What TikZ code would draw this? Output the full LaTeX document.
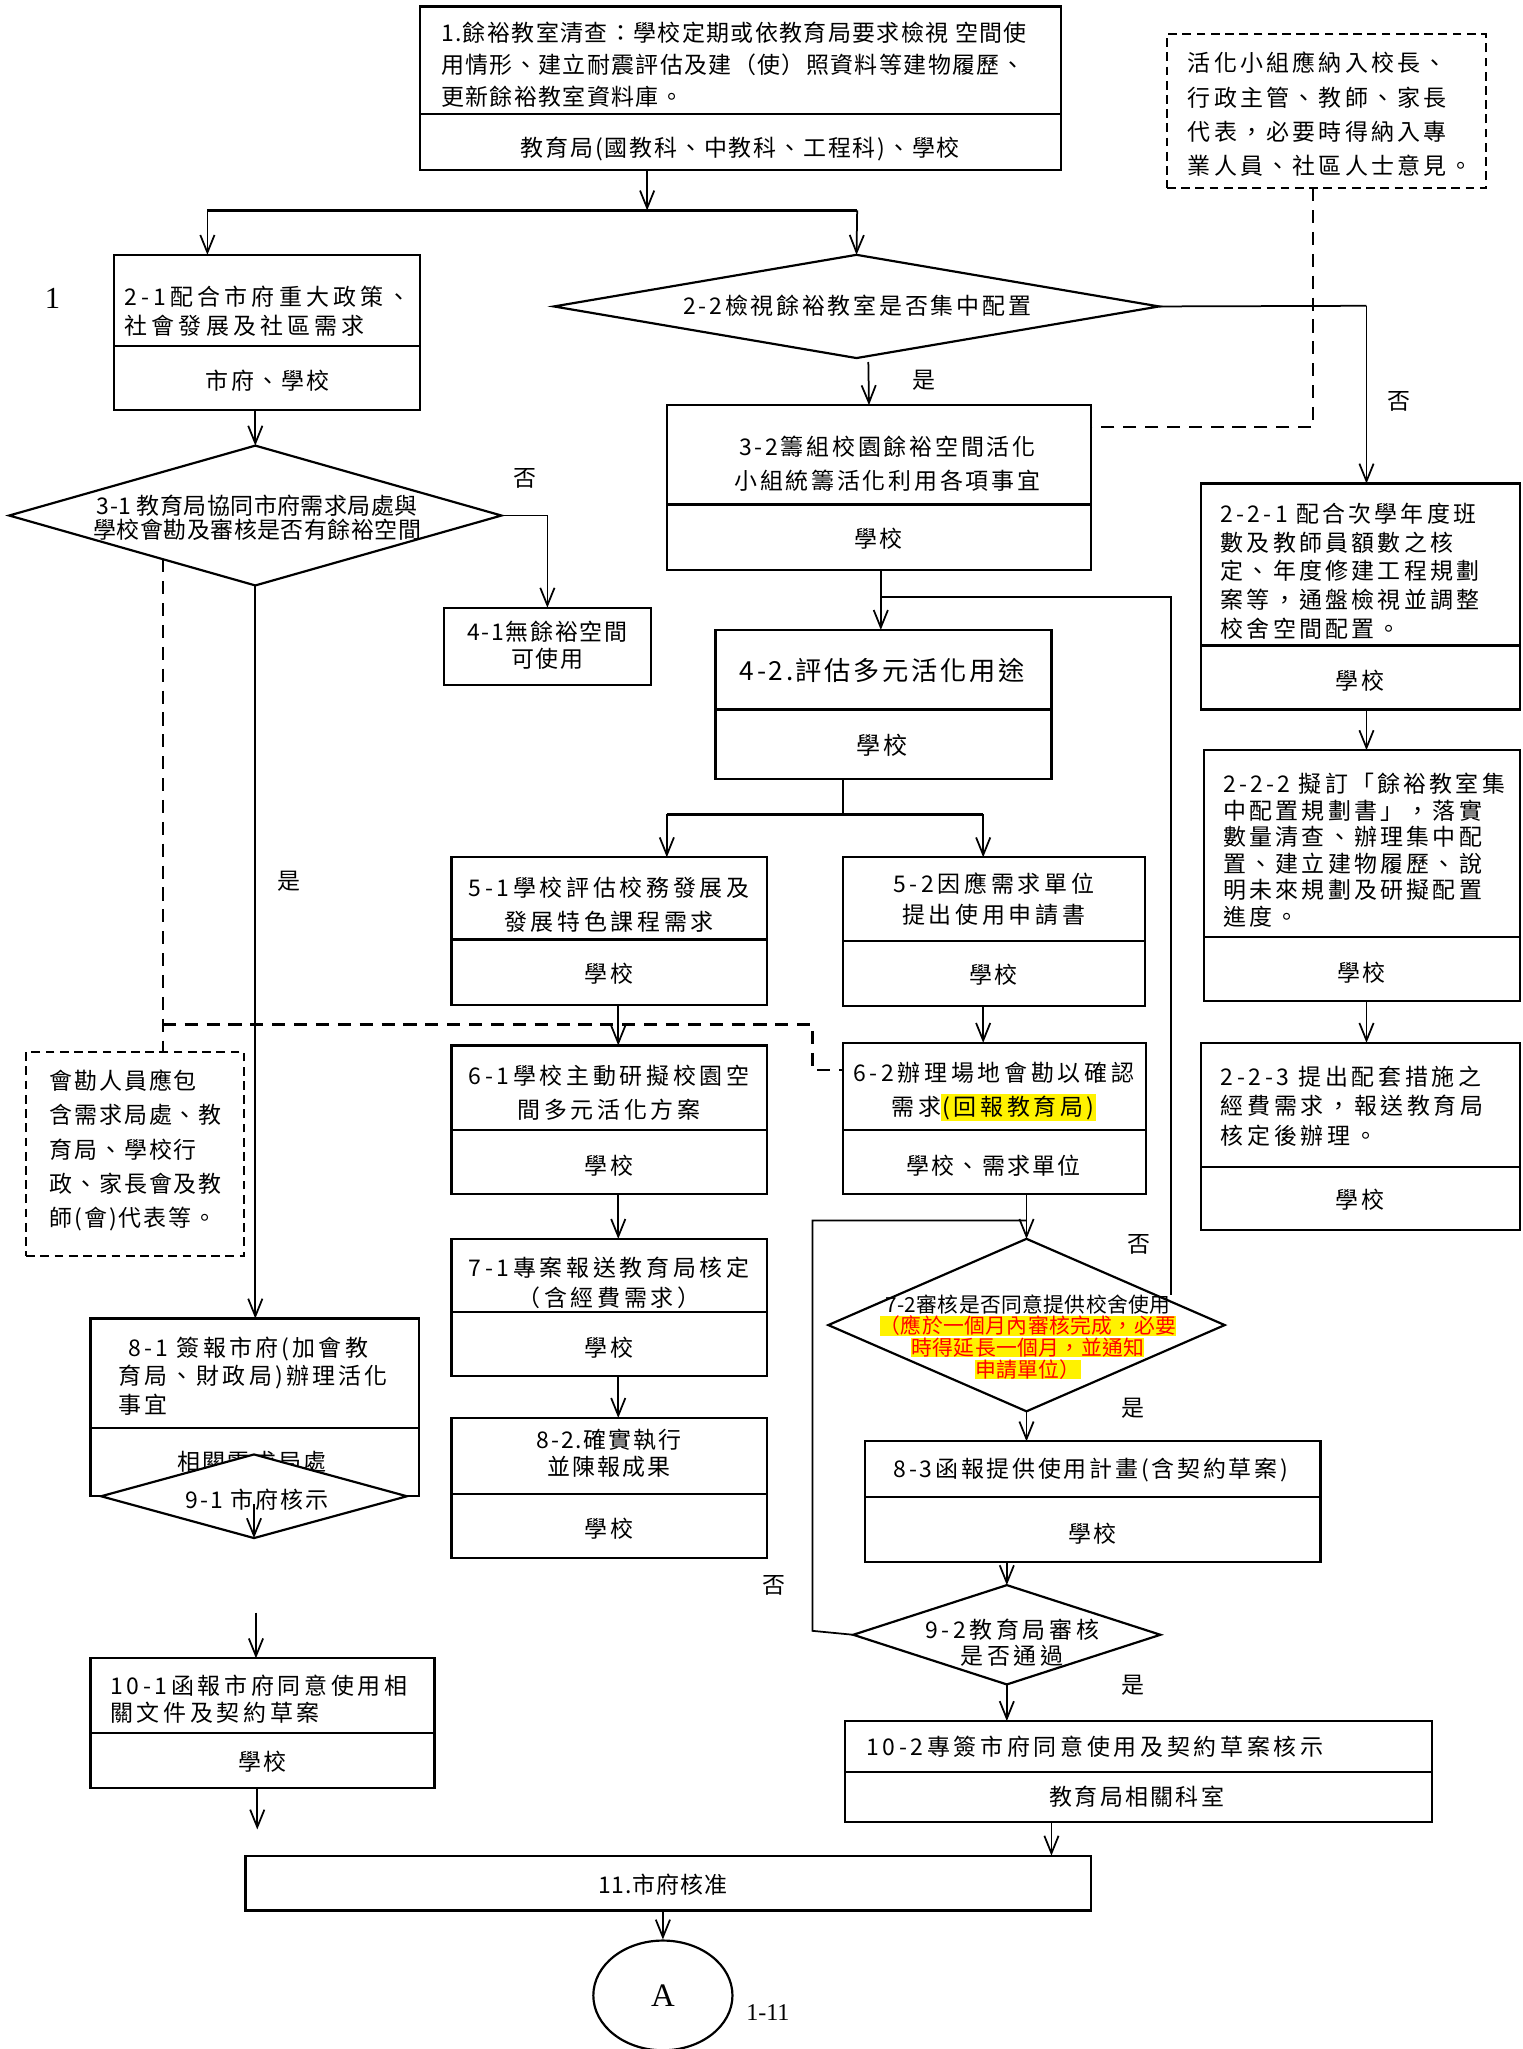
\documentclass[tikz,border=0pt]{standalone}
\usepackage{fontspec}
\setmainfont{Noto Sans CJK TC}
\newfontfamily\latinserif{Liberation Serif}
\usetikzlibrary{arrows.meta,shapes.geometric,fit}
\newcommand\F[3]{\fontsize{#1}{#2}\selectfont\addfontfeatures{LetterSpace=#3}}
\newcommand\mkbox[6]{%
  \coordinate (#1-nw) at (#2,#3); \coordinate (#1-se) at (#4,#5);
  \node[box, fit=(#1-nw)(#1-se)] (#1) {};
  \draw[line width=1pt] (#1.west |- 0,#6) -- (#1.east |- 0,#6);}
\newcommand\mkboxo[5]{%
  \coordinate (#1-nw) at (#2,#3); \coordinate (#1-se) at (#4,#5);
  \node[box, fit=(#1-nw)(#1-se)] (#1) {};}
\tikzset{
  box/.style={draw, line width=1pt, inner sep=0pt, outer sep=0pt},
  dbox/.style={draw, line width=1pt, dash pattern=on 4pt off 2.5pt, inner sep=0pt, outer sep=0pt},
  dia/.style 2 args={draw, diamond, line width=1pt, inner sep=0pt, outer sep=0pt, minimum width={#1*0.6pt}, minimum height={#2*0.5973pt}},
  arr/.style={line width=0.8pt, -{Straight Barb[length=8pt,width=6.5pt]}},
  ln/.style={line width=0.8pt},
  hl/.style={line width=1.3pt},
  dl/.style={line width=1pt, dash pattern=on 6pt off 4pt},
  txt/.style={inner sep=0pt, outer sep=0pt},
  yn/.style={inner sep=0pt, outer sep=0pt, font=\F{10.5}{12}{0}},
  red/.style={inner sep=0pt, outer sep=0pt, fill=yellow, text=red, font=\F{9.5}{10}{2}},
}
\begin{document}
\begin{tikzpicture}[x=0.6pt,y=-0.5973pt]
\fill[white] (0,0) rectangle (1160,1568);
\useasboundingbox (0,0) rectangle (1160,1568);
\setlength{\fboxsep}{0.5pt}

% ================= NODES =================
% ---- box 1
\mkbox{b1}{320}{5}{808}{130}{87}
\node[txt, anchor=west, align=left, font=\F{10.5}{14.6}{6}] (b1t) at (336,49.5) {1.餘裕教室清查：學校定期或依教育局要求檢視 空間使\\用情形、建立耐震評估及建（使）照資料等建物履歷、\\更新餘裕教室資料庫。};
\node[txt, font=\F{10.5}{14}{8}] (b1b) at (564,114) {教育局(國教科、中教科、工程科)、學校};

% ---- dashed note top right
\coordinate (bd-nw) at (889,26); \coordinate (bd-se) at (1132,144);
\node[dbox, fit=(bd-nw)(bd-se)] (bd) {};
\node[txt, anchor=west, align=left, font=\F{10.5}{15.7}{14}] (bdt) at (905,87.5) {活化小組應納入校長、\\行政主管、教師、家長\\代表，必要時得納入專\\業人員、社區人士意見。};

% ---- 2-1
\mkbox{b21}{87}{195}{320}{314}{265}
\node[txt, anchor=west, align=left, font=\F{10.5}{13.1}{18}] (b21t) at (95,238) {2-1配合市府重大政策、\\社會發展及社區需求};
\node[txt, font=\F{10.5}{13}{10}] (b21b) at (204,291) {市府、學校};
\node[txt, font=\latinserif\fontsize{14}{14}\selectfont] (n1) at (40,228) {1};

% ---- 2-2 diamond
\node[dia={461}{79}] (d22) at (652.5,234.5) {};
\node[txt, font=\F{10.5}{13}{12}] (d22t) at (653,234) {2-2檢視餘裕教室是否集中配置};
\node[yn] (n22no) at (1066,307) {否};
\node[yn] (n22yes) at (704,291) {是};

% ---- 3-2
\mkbox{b32}{508}{310}{831}{436}{386}
\node[txt, align=center, font=\F{10.5}{15.5}{12}] (b32t) at (676,355) {3-2籌組校園餘裕空間活化\\小組統籌活化利用各項事宜};
\node[txt, font=\F{10.5}{13}{10}] (b32b) at (669,412) {學校};

% ---- 3-1 diamond
\node[dia={375}{107}] (d31) at (194.5,394.5) {};
\node[txt, align=center, font=\F{10.5}{9.6}{2}] (d31t) at (196,396) {3-1 教育局協同市府需求局處與\\學校會勘及審核是否有餘裕空間};
\node[yn] (n31no) at (400,366) {否};
\node[yn] (n31yes) at (220,674) {是};

% ---- 4-1
\mkboxo{b41}{338}{465}{496}{524}
\node[txt, align=center, font=\F{10.5}{12.5}{7}] (b41t) at (417,494) {4-1無餘裕空間\\可使用};

% ---- dashed note left
\coordinate (bd2-nw) at (20,805); \coordinate (bd2-se) at (186,961);
\node[dbox, fit=(bd2-nw)(bd2-se)] (bd2) {};
\node[txt, anchor=west, align=left, font=\F{10.5}{15.7}{8}] (bd2t) at (38,880.5) {會勘人員應包\\含需求局處、教\\育局、學校行\\政、家長會及教\\師(會)代表等。};

% ---- 4-2
\mkbox{b42}{545}{482}{801}{596}{543}
\node[txt, font=\F{12}{14}{10}] (b42t) at (672,513) {4-2.評估多元活化用途};
\node[txt, font=\F{11}{13}{10}] (b42b) at (672,570) {學校};

% ---- 5-1, 5-2
\mkbox{b51}{344}{656}{584}{769}{719}
\node[txt, align=center, font=\F{10.5}{15.5}{16}] (b51t) at (464,692) {5-1學校評估校務發展及\\發展特色課程需求};
\node[txt, font=\F{10.5}{13}{10}] (b51b) at (464,745) {學校};
\mkbox{b52}{642}{656}{872}{770}{720}
\node[txt, align=center, font=\F{10.5}{14.3}{16}] (b52t) at (757,688) {5-2因應需求單位\\提出使用申請書};
\node[txt, font=\F{10.5}{13}{10}] (b52b) at (757,746) {學校};

% ---- 6-1, 6-2
\mkbox{b61}{344}{800}{584}{914}{865}
\node[txt, align=center, font=\F{10.5}{15.5}{16}] (b61t) at (464,836) {6-1學校主動研擬校園空\\間多元活化方案};
\node[txt, font=\F{10.5}{13}{10}] (b61b) at (464,892) {學校};
\mkbox{b62}{642}{798}{873}{914}{865}
\node[txt, align=center, font=\F{10.5}{15.5}{16}] (b62t) at (757,835) {6-2辦理場地會勘以確認\\需求\colorbox{yellow}{(回報教育局)}};
\node[txt, font=\F{10.5}{13}{10}] (b62b) at (757,892) {學校、需求單位};

% ---- 2-2-x column
\mkbox{b221}{915}{370}{1158}{543}{494}
\node[txt, anchor=west, align=left, font=\F{10.5}{13.1}{14}] (b221t) at (930,437) {2-2-1 配合次學年度班\\數及教師員額數之核\\定、年度修建工程規劃\\案等，通盤檢視並調整\\校舍空間配置。};
\node[txt, font=\F{10.5}{13}{10}] (b221b) at (1036,521) {學校};
\mkbox{b222}{917}{574}{1158}{766}{717}
\node[txt, anchor=west, align=left, font=\F{10.5}{12.1}{14}] (b222t) at (932,650.5) {2-2-2 擬訂「餘裕教室集\\中配置規劃書」，落實\\數量清查、辦理集中配\\置、建立建物履歷、說\\明未來規劃及研擬配置\\進度。};
\node[txt, font=\F{10.5}{13}{10}] (b222b) at (1037,744) {學校};
\mkbox{b223}{915}{798}{1158}{941}{893}
\node[txt, anchor=west, align=left, font=\F{10.5}{13.4}{16}] (b223t) at (930,846.5) {2-2-3 提出配套措施之\\經費需求，報送教育局\\核定後辦理。};
\node[txt, font=\F{10.5}{13}{10}] (b223b) at (1036,918) {學校};

% ---- 7-1, 8-2
\mkbox{b71}{344}{948}{584}{1053}{1004}
\node[txt, align=center, font=\F{10.5}{13.7}{16}] (b71t) at (464,981.5) {7-1專案報送教育局核定\\（含經費需求）};
\node[txt, font=\F{10.5}{13}{10}] (b71b) at (464,1031) {學校};
\mkbox{b82}{344}{1085}{584}{1192}{1143}
\node[txt, align=center, font=\F{10.5}{12}{8}] (b82t) at (464,1112) {8-2.確實執行\\並陳報成果};
\node[txt, font=\F{10.5}{13}{10}] (b82b) at (464,1170) {學校};

% ---- 7-2 diamond
\node[dia={302}{132}] (d72) at (782,1014) {};
\node[txt, font=\F{9.5}{10}{2}] (d72t) at (783,998) {7-2審核是否同意提供校舍使用};
\node[red] (r1) at (783,1014.6) {（應於一個月內審核完成，必要};
\node[red] (r2) at (783,1031) {時得延長一個月，並通知};
\node[red] (r3) at (783,1048) {申請單位）};
\node[yn] (n72no) at (868,952) {否};
\node[yn] (n72yes) at (863,1078) {是};

% ---- 8-3
\mkbox{b83}{659}{1103}{1006}{1195}{1145.5}
\node[txt, font=\F{10.5}{13}{12}] (b83t) at (831,1125) {8-3函報提供使用計畫(含契約草案)};
\node[txt, font=\F{10.5}{13}{10}] (b83b) at (832,1174) {學校};

% ---- 9-2 diamond
\node[dia={234}{76}] (d92) at (767,1251) {};
\node[txt, align=center, font=\F{10.5}{12}{16}] (d92t) at (771,1257) {9-2教育局審核\\是否通過};
\node[yn] (n92no) at (590,1213) {否};
\node[yn] (n92yes) at (863,1290) {是};

% ---- 10-2
\mkbox{b102}{644}{1317}{1091}{1394}{1356}
\node[txt, anchor=west, font=\F{10.5}{13}{16}] (b102t) at (660,1337) {10-2專簽市府同意使用及契約草案核示};
\node[txt, font=\F{10.5}{13}{10}] (b102b) at (866,1375) {教育局相關科室};

% ---- 8-1 and 9-1
\mkbox{b81}{69}{1009}{319}{1145}{1092.6}
\node[txt, anchor=west, align=left, font=\F{10.5}{13.1}{14}] (b81t) at (90,1053) {\hspace{4.8pt}8-1 簽報市府(加會教\\育局、財政局)辦理活化\\事宜};
\node[txt, font=\F{10.5}{13}{10}] (b81b) at (192,1119) {相關需求局處};
\node[dia={233}{64}, fill=white] (d91) at (193.5,1145) {};
\node[txt, font=\F{10.5}{13}{9}] (d91t) at (196,1148) {9-1 市府核示};

% ---- 10-1
\mkbox{b101}{69}{1269}{331}{1368}{1326}
\node[txt, anchor=west, align=left, font=\F{10.5}{12.5}{16}] (b101t) at (84,1300.5) {10-1函報市府同意使用相\\關文件及契約草案};
\node[txt, font=\F{10.5}{13}{10}] (b101b) at (200,1348) {學校};

% ---- 11 and A
\mkboxo{b11}{187}{1420}{831}{1462}
\node[txt, font=\F{10.5}{13}{4}] (b11t) at (505,1442) {11.市府核准};
\node[draw, ellipse, line width=1pt, inner sep=0pt, minimum width={106*0.6pt}, minimum height={84*0.5973pt}, font=\latinserif\fontsize{15}{15}\selectfont] (cA) at (505,1527) {A};
\node[txt, font=\latinserif\fontsize{11}{11}\selectfont] (p111) at (585,1540) {1-11};

% ================= COORDINATES =================
\coordinate (s1) at (493,161); \coordinate (s1l) at (158,161); \coordinate (s1r) at (653,161);
\coordinate (c221) at (1041,234);
\coordinate (cdash1) at (1000,327);
\coordinate (cd2) at (124,428); \coordinate (cd3) at (124,784);
\coordinate (cd4) at (619,784); \coordinate (cd5) at (619,819);
\coordinate (j32) at (671,457); \coordinate (c72r) at (892,991);
\coordinate (j42) at (642,623); \coordinate (j42l) at (508,623); \coordinate (j42r) at (749,623);
\coordinate (l1) at (619,1248); \coordinate (l2) at (619,934);
\coordinate (c91) at (193.5,1151);
\coordinate (c101) at (195,1234);
\coordinate (c101e) at (196,1400);

% ================= CONNECTORS =================
\draw[arr] (b1.south -| s1) -- (s1);
\draw[hl] (s1l) -- (s1r);
\draw[arr] (s1l) -- (b21.north -| s1l);
\draw[arr] (s1r) -- (d22.north);
\draw[ln] (d22.east) -- (c221);
\draw[arr] (c221) -- (b221.north -| c221);
\draw[arr] ([xshift=5.4pt,yshift=-1.8pt]d22.south) -- (b32.north -| 662,0);
\draw[dl] (bd.south -| cdash1) -- (cdash1) -- (b32.east |- cdash1);
\draw[arr] (d31.north |- b21.south) -- (d31.north);
\draw[arr] (d31.east) -| (b41.north);
\draw[arr] (d31.south) -- (b81.north -| d31.south);
\draw[dl] (cd2) -- (bd2.north -| cd2);
\draw[dl] (cd3) -- (cd4) -- (cd5) -- (b62.west |- cd5);
\draw[arr] (b32.south -| j32) -- (b42.north -| j32);
\draw[ln] (j32) -| (c72r);
\draw[ln] (b42.south -| j42) -- (j42);
\draw[hl] (j42l) -- (j42r);
\draw[arr] (j42l) -- (b51.north -| j42l);
\draw[arr] (j42r) -- (b52.north -| j42r);
\draw[arr] (b51.south -| 471,0) -- (b61.north -| 471,0);
\draw[arr] (b52.south -| 749,0) -- (b62.north -| 749,0);
\draw[arr] (b221.south -| 1041,0) -- (b222.north -| 1041,0);
\draw[arr] (b222.south -| 1041,0) -- (b223.north -| 1041,0);
\draw[arr] (b61.south -| 471,0) -- (b71.north -| 471,0);
\draw[arr] (b71.south -| 471,0) -- (b82.north -| 471,0);
\draw[arr] (b62.south -| d72.north) -- (d72.north);
\draw[arr] (d72.south) -- (b83.north -| d72.south);
\draw[arr] (b83.south -| d92.north) -- (d92.north);
\draw[ln] (d92.west) -- (l1) -- (l2) -- (l2 -| d72.north);
\draw[arr] (d92.south) -- (b102.north -| d92.south);
\draw[arr] (c91) -- (d91.south);
\draw[arr] (c101) -- (b101.north -| c101);
\draw[arr] (b101.south -| c101e) -- (c101e);
\draw[arr] (b102.south -| 801,0) -- (b11.north -| 801,0);
\draw[arr] (b11.south -| cA.north) -- (cA.north);
\end{tikzpicture}
\end{document}
